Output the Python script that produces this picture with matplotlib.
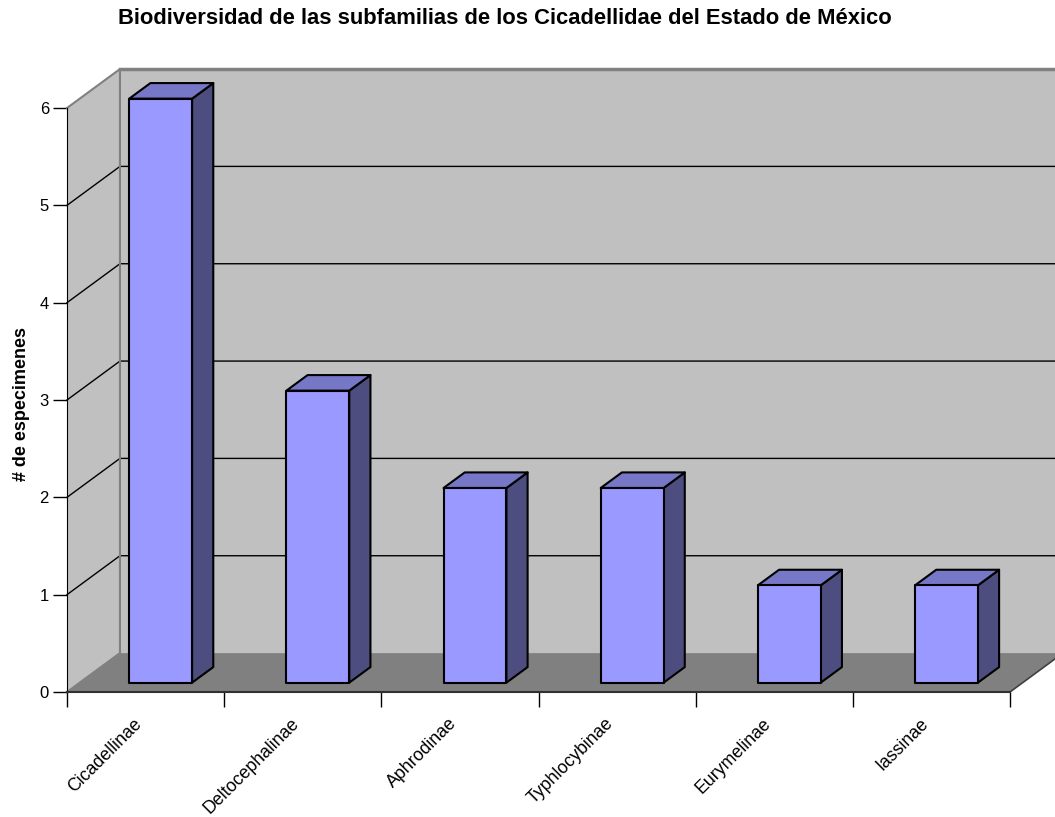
import numpy as np
import matplotlib
matplotlib.use("Agg")
import matplotlib.pyplot as plt
from matplotlib.patches import Polygon
from matplotlib.transforms import ScaledTranslation

plt.rcParams['font.family'] = ['Liberation Sans', 'DejaVu Sans']

subfamilias = ["Cicadellinae", "Deltocephalinae", "Aphrodinae",
               "Typhlocybinae", "Eurymelinae", "Iassinae"]
especimenes = [6, 3, 2, 2, 1, 1]
y_ticks = [0, 1, 2, 3, 4, 5, 6]

# depth of the 3D box, in data units (x: categories, y: values)
DEPTH_X = 0.337
DEPTH_Y = 0.40
BAR_W = 0.40
BAR_Z0, BAR_Z1 = 0.24, 0.64   # bar front / back as fraction of box depth

WALL = "#C0C0C0"
FLOOR = "#808080"
EDGE = "#808080"
FRONT = "#9999FF"
TOP = "#7777C7"
SIDE = "#4D4D80"


def proj(x, y, z):
    return (x + z * DEPTH_X, y + z * DEPTH_Y)


fig = plt.figure(figsize=(10.55, 8.17), dpi=100)
ax = fig.add_axes([67 / 1055, 125 / 817, 943 / 1055, 584 / 817])
n = len(subfamilias)
ymax = max(y_ticks)
ax.set_xlim(0, n)
ax.set_ylim(0, ymax)
ax.patch.set_visible(False)

# walls and floor
back = [proj(0, 0, 1), proj(0, ymax, 1), proj(n + 1, ymax, 1), proj(n + 1, 0, 1)]
left = [proj(0, 0, 0), proj(0, ymax, 0), proj(0, ymax, 1), proj(0, 0, 1)]
floor = [proj(0, 0, 0), proj(n, 0, 0), proj(n, 0, 1), proj(0, 0, 1)]
ax.add_patch(Polygon(back, closed=True, fc=WALL, ec="none", clip_on=False, zorder=1))
ax.add_patch(Polygon(left, closed=True, fc=WALL, ec="none", clip_on=False, zorder=1))
ax.add_patch(Polygon(floor, closed=True, fc=FLOOR, ec="none", clip_on=False, zorder=1))

# gridlines on left and back walls
for v in y_ticks[1:-1]:
    p0, p1 = proj(0, v, 0), proj(0, v, 1)
    p2 = proj(n + 1, v, 1)
    ax.plot([p0[0], p1[0], p2[0]], [p0[1], p1[1], p2[1]], color="black",
            lw=1.0, clip_on=False, zorder=2)

# wall edges
e = [proj(0, 0, 0), proj(0, 0, 1), proj(0, ymax, 1), proj(0, ymax, 0)]
ax.plot([p[0] for p in e], [p[1] for p in e], color=EDGE, lw=1.5, clip_on=False, zorder=2)
t0, t1 = proj(0, ymax, 1), proj(n + 1, ymax, 1)
ax.plot([t0[0], t1[0]], [t0[1], t1[1]], color=EDGE, lw=2.5, clip_on=False, zorder=2)
r0, r1 = proj(n, 0, 0), proj(n, 0, 1)
ax.plot([r0[0], r1[0]], [r0[1], r1[1]], color="#404040", lw=1.2, clip_on=False, zorder=2)

# bars
for i, v in enumerate(especimenes):
    x0 = i + 0.515 - BAR_W / 2
    x1 = i + 0.515 + BAR_W / 2
    front = [proj(x0, 0, BAR_Z0), proj(x0, v, BAR_Z0), proj(x1, v, BAR_Z0), proj(x1, 0, BAR_Z0)]
    top = [proj(x0, v, BAR_Z0), proj(x0, v, BAR_Z1), proj(x1, v, BAR_Z1), proj(x1, v, BAR_Z0)]
    side = [proj(x1, 0, BAR_Z0), proj(x1, v, BAR_Z0), proj(x1, v, BAR_Z1), proj(x1, 0, BAR_Z1)]
    for pts, c in ((side, SIDE), (top, TOP), (front, FRONT)):
        ax.add_patch(Polygon(pts, closed=True, fc=c, ec="black", lw=1.5,
                             joinstyle="round", clip_on=False, zorder=3))

# axes
for s in ("top", "right"):
    ax.spines[s].set_visible(False)
ax.spines["left"].set_color("black")
ax.spines["bottom"].set_color("#303030")
ax.spines["bottom"].set_linewidth(1.5)
ax.spines["left"].set_zorder(4)
ax.spines["bottom"].set_zorder(4)

ax.set_yticks(y_ticks)
ax.set_yticklabels([str(t) for t in y_ticks], fontsize=12)
ax.tick_params(axis="y", length=10, width=1, pad=3)

ax.set_xticks(range(n + 1))
ax.set_xticklabels([])
ax.tick_params(axis="x", which="major", length=11, width=1)
ax.set_xticks(np.arange(n) + 0.5, minor=True)
ax.set_xticklabels(subfamilias, minor=True, rotation=45, ha="right",
                   va="center", rotation_mode="anchor", fontsize=12.8)
ax.tick_params(axis="x", which="minor", length=0, pad=21)
shift = ScaledTranslation(-6 / 100, 0, fig.dpi_scale_trans)
for lbl in ax.get_xticklabels(minor=True):
    lbl.set_transform(lbl.get_transform() + shift)

fig.text(0.479, 0.977, "Biodiversidad de las subfamilias de los Cicadellidae del Estado de México",
         ha="center", va="center", fontsize=15.8, fontweight="bold")
fig.text(0.020, 0.506, "# de especimenes", ha="center", va="center",
         rotation=90, fontsize=13, fontweight="bold")

fig.savefig("out.png", dpi=100)
